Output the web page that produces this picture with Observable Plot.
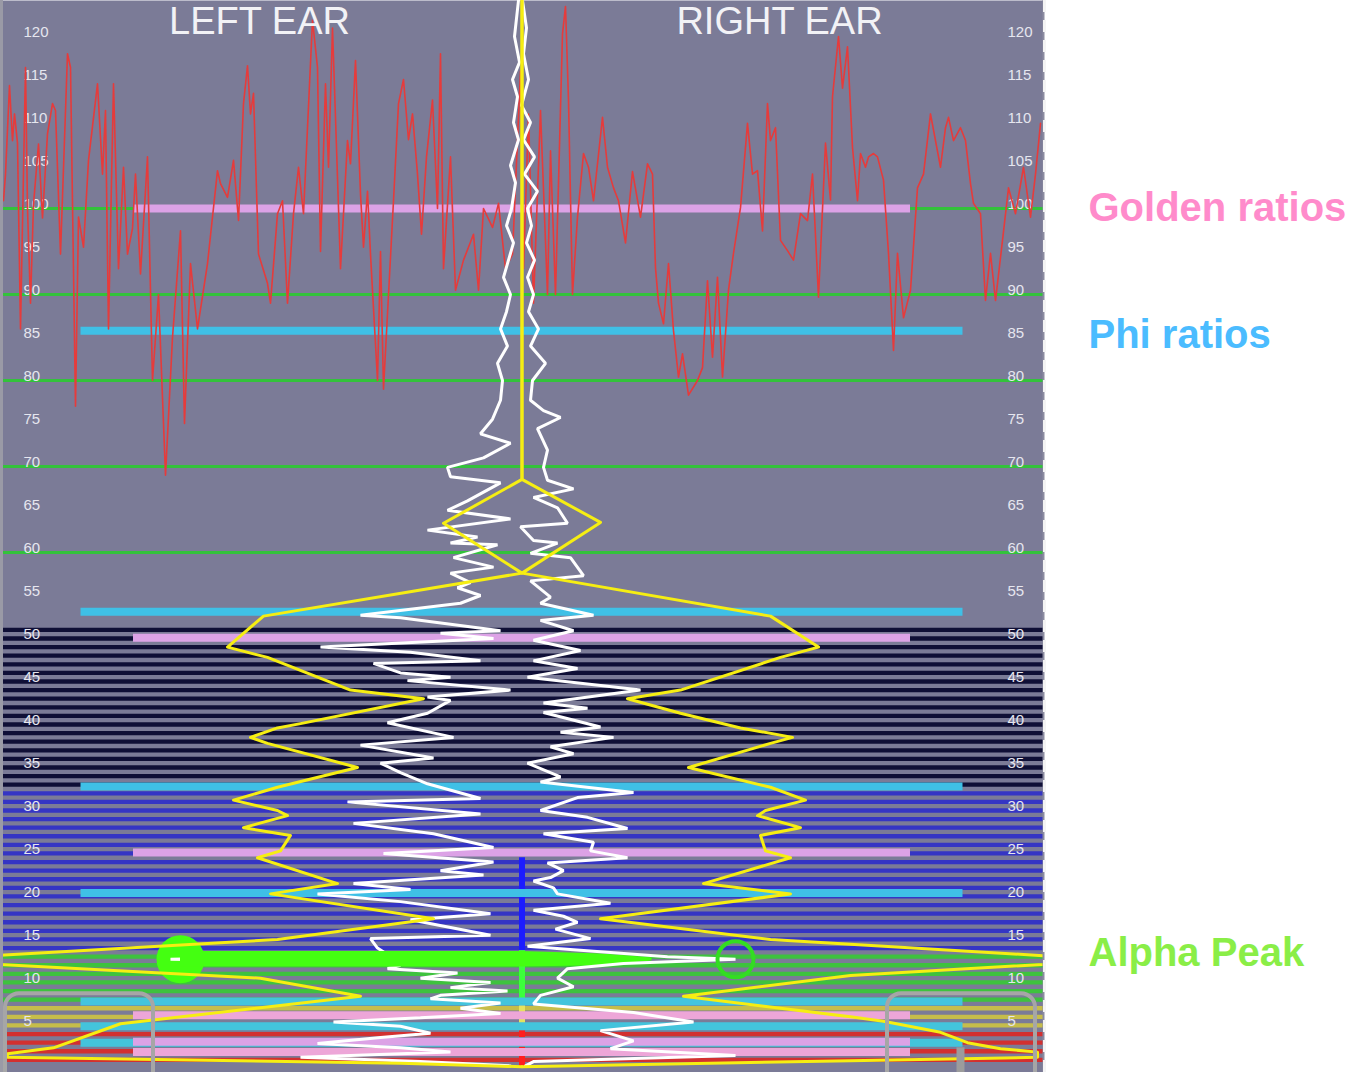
<!DOCTYPE html>
<html>
<head>
<meta charset="utf-8">
<script src="https://cdn.jsdelivr.net/npm/d3@7"></script>
<script src="https://cdn.jsdelivr.net/npm/@observablehq/plot@0.6"></script>
<style>
  html, body { margin: 0; padding: 0; background: #ffffff; }
  #chart { position: absolute; left: 0; top: 0; }
</style>
</head>
<body>
<div id="chart"></div>
<script>
// ---------- DATA ----------
const freqTicks = [5,10,15,20,25,30,35,40,45,50,55,60,65,70,75,80,85,90,95,100,105,110,115,120];
const earLabels = ["LEFT EAR", "RIGHT EAR"];
const annotations = [
  {label: "Golden ratios", v: 100},
  {label: "Phi ratios", v: 85.3},
  {label: "Alpha Peak", v: 13.4}
];
const annotationColors = ["#ff8bcb", "#4bbcff", "#8aee47"];

// EEG frequency bands (Hz) shown as striped background bins
const bands = [
  {name: "delta", lo: 1, hi: 4},
  {name: "theta", lo: 5, hi: 7},
  {name: "alpha", lo: 8, hi: 13},
  {name: "beta", lo: 14, hi: 32},
  {name: "gamma", lo: 33, hi: 51}
];
const bandColors = {delta: "#d23030", theta: "#c6bd4a", alpha: "#3ec23e", beta: "#3535c4", gamma: "#0f0f36"};
const markerColors = {delta: "#ff1e1e", theta: "#e6e25e", alpha: "#3cff3c", beta: "#1c1cff"};
const freqBins = d3.range(1, 52);

// centre band marker segments (Hz)
const markerSegments = [
  {band: "beta", lo: 13.7, hi: 24.5},
  {band: "alpha", lo: 7.7, hi: 13.7},
  {band: "theta", lo: 5.2, hi: 7.3},
  {band: "delta", lo: 3.6, hi: 4.4},
  {band: "delta", lo: 0.1, hi: 2.7}
];

const gridLines = [60, 70, 80, 90, 100];
const goldenRatios = [100, 50.1, 25.1, 6.2, 3.1, 1.9];
const phiRatios = [85.8, 53.1, 32.8, 20.4, 7.8, 4.9, 3.0];

// red trace [time, level]
const redTrace = [
[-103.7,100.9],[-103.3,104],[-102.5,114.3],[-101.9,107.9],[-101.5,111],[-100.9,107.6],[-100.3,86],[-99.3,116.4],[-98.9,100],[-98.3,89],
[-97.7,100.5],[-96.7,107.5],[-95.9,98.9],[-94.9,108.7],[-93.9,112.2],[-93.3,111.4],[-92.3,94.7],[-90.9,118],[-90.3,116.4],[-89.3,77],
[-88.7,99],[-87.7,95.5],[-86.7,105.6],[-84.9,114.5],[-83.9,104],[-83.3,111.4],[-82.7,86],[-81.7,114.5],[-80.7,93],[-79.7,104.8],
[-78.9,94.7],[-77.9,97.7],[-77.3,104],[-76.3,92.4],[-74.9,106],[-73.9,80],[-72.7,90],[-71.3,69],[-69.9,85],[-68.3,97.4],
[-67.5,75],[-66.3,93.6],[-64.9,86],[-62.9,93.6],[-60.9,104.4],[-60.3,102.9],[-58.9,101.3],[-57.7,105.6],[-56.7,98.6],[-55.7,112.2],
[-54.9,116.6],[-54.3,111],[-53.7,113.4],[-52.7,94.7],[-50.9,91.3],[-50.3,89],[-48.9,99.4],[-47.9,100.9],[-46.9,89],[-45.7,99.4],
[-44.7,104.8],[-43.7,99.4],[-41.9,121.9],[-40.9,116.4],[-40.3,95],[-39.3,114.5],[-38.7,104.8],[-37.9,121],[-36.9,103.6],[-36.3,93],
[-34.9,107.9],[-34.3,105.2],[-33.3,117.2],[-32.3,101.7],[-31.7,95.5],[-30.9,102],[-30.3,94.7],[-28.9,80],[-28.3,95],[-27.7,79],
[-25.7,100.9],[-24.7,112.2],[-23.7,115],[-22.7,108],[-21.9,111],[-20.9,104],[-20.1,97],[-19.1,106],[-17.9,112.6],[-16.9,100],
[-16.3,118],[-15.7,93],[-14.3,106],[-13.3,90.5],[-11.7,94],[-9.7,97],[-8.7,90.5],[-7.7,100],[-5.9,97.8],[-4.7,100.6],
[-3.3,93],[-1.9,94.7],[-0.3,116],[0.3,93],[1.3,111],[2.3,89],[3.7,111.4],[5.1,90],[5.7,106.7],[6.7,90],
[8.1,120.3],[8.7,123.5],[9.3,112.6],[10.1,90],[11.1,99],[12.3,106.4],[13.3,104.8],[14.3,100.9],[16.1,110.6],[17.1,104.8],
[18.3,102.4],[19.3,100.9],[20.7,96],[22.1,104.3],[23.7,99],[25.1,105.2],[26.1,104],[26.7,93.1],[27.3,89],[28.3,86.6],
[29.3,93.6],[30.3,85.8],[31.3,80.4],[32.1,83.1],[33.3,78.3],[35.1,80],[36.1,81.5],[37.1,91.6],[38.1,82.7],[39.1,92],
[40.1,80.4],[41.3,90.5],[42.3,94.8],[43.7,100.1],[45.1,109.9],[46.1,104],[47.1,104.4],[48.1,97.4],[49.1,112.2],[49.7,107.9],
[50.7,109.4],[51.7,96.3],[53.1,95.1],[54.3,94],[55.7,99.4],[57.1,98.6],[58.1,104],[59.3,89.7],[60.7,107.6],[61.7,101],
[62.1,113],[63.3,120],[64.1,114],[65.1,118.8],[66.1,107.1],[67.1,100.9],[67.7,106.4],[68.7,104.8],[69.3,106],[70.3,106.4],
[71.1,106],[72.3,103.3],[73.3,94.8],[74.3,83.5],[75.1,94.8],[76.3,87.3],[77.7,90.5],[79.1,102.4],[80.3,104],[81.7,111],
[82.7,107.9],[83.7,104.8],[84.7,109.4],[85.3,110.6],[86.3,107.9],[87.7,109.4],[88.7,107.9],[89.7,102.9],[90.3,100.6],[91.7,99.4],
[92.7,89.3],[93.7,94.8],[94.7,89.3],[96.1,96.3],[97.3,102.4],[98.7,99.4],[100.3,104.8],[101.7,99],[102.7,104],[103.7,109.9]
];

// white spectra [frequency, amplitude] (left ear negative, right ear positive)
const leftSpectrum = [
[124.2,-0.7],[120,-1.5],[117,-0.5],[115,-1.9],[113,-0.9],[110,-1.7],[108,-0.7],[105,-2.3],[103,-1.3],[100,-2.1],
[98,-3.1],[96,-1.7],[94,-2.7],[92,-3.7],[90,-2.3],[88,-3.1],[86,-4.3],[84,-2.9],[82,-4.9],[80,-3.9],
[77.7,-4.3],[75.5,-5.9],[73.8,-8.3],[72.7,-2.3],[71,-7.7],[69.9,-14.9],[68.8,-14.3],[68.1,-4.3],[66,-10.9],[64.9,-14.9],
[63.9,-2.3],[62.6,-18.9],[61.8,-8.9],[61.1,-14.3],[60.9,-4.9],[59.4,-13.7],[58.3,-5.7],[57.6,-14.3],[56.5,-10.3],[55.9,-12.9],
[55,-8.3],[54.1,-12.3],[52.7,-32.3],[52.4,-24.3],[50.9,-4.3],[50.6,-16.3],[50,-5.7],[49,-40.3],[48.4,-22.3],[47.4,-8.3],
[47.1,-29.7],[46,-24.3],[45.5,-14.3],[45.1,-22.9],[44,-2.3],[43.2,-18.9],[42.8,-14.3],[41.3,-18.9],[40.2,-26.9],[38.5,-13.7],
[37.6,-32.3],[36.1,-17.7],[35.5,-28.3],[34.4,-24.3],[33.1,-18.9],[31.4,-8.3],[31,-34.9],[29.6,-8.3],[28.5,-33.7],[27.3,-17.7],
[25.7,-5.7],[25,-27.7],[24,-5.7],[23,-16.3],[22.5,-7.7],[21.5,-33.7],[20.8,-22.3],[20.3,-40.9],[19.4,-24.3],[18,-6.3],
[17.3,-22.3],[15.5,-6.3],[15.1,-30.3],[14,-28.9],[13.4,-27.3],[13,-44.3],[12.7,-70.3],[12.4,-38.3],[12,-24.3],[11.6,-26.9],
[11.1,-12.9],[10.5,-20.3],[10,-6.3],[9.4,-14.3],[9,-2.9],[8.5,-16.3],[8.1,-18.3],[7.6,-4.3],[7,-12.3],[6.4,-4.3],
[5.9,-20.3],[5.4,-37.7],[4.9,-24.3],[4.1,-18.3],[3.6,-28.3],[2.9,-40.9],[2.4,-24.3],[1.9,-14.3],[1.3,-44.3],[0.8,-20.3],[0.3,-2.3]
];
const rightSpectrum = [
[124.2,0.1],[121,0.9],[118,0.3],[115,1.3],[112,-0.1],[110,1.7],[108,0.3],[106,2.5],[104,0.5],[102,3.1],
[100,1.1],[98,1.9],[96,0.9],[94,2.5],[92,1.1],[90,2.3],[88,1.3],[86,3.3],[84,1.7],[82,4.7],
[80,2.1],[77.7,1.7],[76.5,4.3],[75.7,7.7],[74.4,3.1],[71.9,5.1],[69.9,4.3],[68.4,5.1],[67.4,10.3],[66.4,2.3],
[65.2,7.1],[63.4,9.1],[63,-0.3],[61.4,2.3],[61.1,7.1],[59.9,1.7],[59.4,9.7],[57.3,12.3],[56.7,1.7],[54.8,5.7],
[54.1,3.7],[52.7,14.3],[52.1,3.7],[50.9,10.3],[49.8,2.3],[48.6,11.7],[47.4,2.3],[46.5,11.1],[45.5,1.1],[44,23.7],
[42.5,4.3],[41.9,13.1],[41.4,4.3],[39.7,15.7],[39.1,7.7],[38.5,18.3],[37.4,5.7],[36.6,10.3],[35.5,1.1],[33.9,7.7],
[33.3,3.7],[32.1,22.3],[31.5,11.1],[30,3.7],[29.2,13.1],[27.9,21.1],[27.3,4.3],[26.3,14.3],[25.3,13.7],[24.5,21.1],
[23.9,5.1],[23,8.3],[22.2,5.7],[21.8,2.3],[21,6.3],[20.3,7.1],[19.2,17.7],[18.4,2.3],[17.7,8.3],[17,11.1],
[16.2,6.7],[15.1,13.7],[14.2,1.1],[13.8,10.3],[13,29.1],[12.7,42.7],[12.2,20.3],[11.6,9.1],[10.5,7.1],[9.5,10.3],
[8.5,3.7],[7.5,2.3],[6.5,22.3],[5.4,34.3],[4.4,15.7],[3.2,22.3],[2.3,17.7],[1.5,42.7],[0.8,2.3],[0.3,0.7]
];

// yellow smoothed envelopes [frequency, amplitude]
const leftEnvelope = [
[124.2,0],[68.5,0],[63.4,-15.7],[57.6,0],[52.6,-51.7],[49,-58.9],[47.8,-50.9],[44,-34.3],[43,-19.7],[40.1,-44.3],
[39.6,-48.9],[38.5,-54.3],[37.8,-50.9],[35,-32.9],[32.7,-48.9],[31.2,-57.7],[30,-48.9],[29.4,-46.9],[28,-55.7],[27.1,-46.3],
[25.3,-48.3],[24.5,-52.9],[21.5,-36.9],[20.3,-50.3],[17.4,-17.7],[15,-48.9],[12.6,-121],[10.5,-52.3],[8.4,-32.3],[5.2,-80.3],
[2.4,-93.7],[1.7,-102.9],[1.3,-102.9],[0.6,-24.3],[0.2,0]
];
const rightEnvelope = [
[124.2,0],[68.5,0],[63.5,15.7],[57.6,0],[52.6,49.7],[49,59.3],[47.8,51.7],[44,31.7],[43,21.1],[41.3,31.7],
[39.6,43.7],[38.5,54.1],[37.8,49.7],[35,33.3],[32.7,49.7],[31.2,56.7],[30,48.7],[29.4,47.1],[28,55.7],[27.1,47.7],
[25.3,48.7],[24.5,53.7],[21.5,36.3],[20.3,53.7],[17.4,15.7],[15,49.7],[12.6,119],[10.8,65.7],[8.4,32.3],[6,65.7],
[5.5,72.3],[4.2,83.7],[3,89.1],[2.3,95.7],[1.9,103.1],[1.3,103.1],[0.9,65.7],[0.2,0]
];

// alpha peak
const alphaPeak = {freq: 12.7, left: -68.3, right: 42.7};
const alphaBridge = [[-68.3, 13.6, 11.8], [0, 13.6, 11.8], [16, 13.3, 11.95], [26, 12.85, 12.5]];

// bottom controls (amplitude extents, frequency top)
const handles = [{x1: -103.3, x2: -73.7, top: 8.7}, {x1: 73.1, x2: 102.7, top: 8.7}];
const slider = [{x: 87.7, top: 2.4}];

// ---------- CHART ----------
const bandOf = f => bands.find(b => f >= b.lo && f <= b.hi).name;
const FONT = "'Liberation Sans', Arial, Helvetica, sans-serif";

const chart = Plot.plot({
  width: 1360,
  height: 1072,
  marginLeft: 0,
  marginRight: 317,
  marginTop: 0,
  marginBottom: 0,
  style: {background: "#ffffff", fontFamily: FONT, overflow: "visible"},
  x: {domain: [-104.3, 104.3], axis: null},
  y: {domain: [-0.47, 124.19], axis: null},
  marks: [
    Plot.frame({fill: "#7b7b97", stroke: null}),
    // striped frequency bins
    Plot.ruleY(freqBins, {y: d => d, stroke: d => bandColors[bandOf(d)], strokeWidth: 4.3}),
    // green reference lines
    Plot.ruleY(gridLines, {y: d => d, stroke: "#33c23b", strokeWidth: 3}),
    // centre band marker
    Plot.ruleX(markerSegments, {x: 0, y1: "lo", y2: "hi", stroke: d => markerColors[d.band], strokeWidth: 6}),
    // phi and golden ratio bars
    Plot.ruleY(phiRatios, {y: d => d, x1: -88.2, x2: 88.2, stroke: d => d < 10 ? "#43c4dc" : "#3fc0e6", strokeWidth: 8}),
    Plot.ruleY(goldenRatios, {y: d => d, x1: -77.7, x2: 77.7, stroke: d => (d < 10 && d !== 3.1) ? "#eda6d8" : "#dca2e6", strokeWidth: 8}),
    // tick labels
    Plot.text(freqTicks, {y: d => d, text: d => String(d), frameAnchor: "left", dx: 23, dy: -4, textAnchor: "start", fill: "#e6e6ef", fontSize: 15}),
    Plot.text(freqTicks, {y: d => d, text: d => String(d), frameAnchor: "right", dx: -36, dy: -4, textAnchor: "start", fill: "#e6e6ef", fontSize: 15}),
    // red trace
    Plot.line(redTrace, {x: d => d[0], y: d => d[1], stroke: "#e63b3b", strokeWidth: 1.6, clip: true}),
    // alpha peak (left circle), left spectrum, bridge
    Plot.dot([alphaPeak], {x: "left", y: "freq", r: 24, fill: "#44ff11", stroke: null}),
    Plot.line(leftSpectrum, {x: d => d[1], y: d => d[0], stroke: "#ffffff", strokeWidth: 3, strokeLinejoin: "miter"}),
    Plot.areaY(alphaBridge, {x: d => d[0], y1: d => d[2], y2: d => d[1], fill: "#44ff11"}),
    Plot.line(rightSpectrum, {x: d => d[1], y: d => d[0], stroke: "#ffffff", strokeWidth: 3, strokeLinejoin: "miter"}),
    Plot.dot([alphaPeak], {x: "right", y: "freq", r: 18, fill: "none", stroke: "#33dd22", strokeWidth: 4}),
    // yellow envelopes
    Plot.line(leftEnvelope, {x: d => d[1], y: d => d[0], stroke: "#f6ee12", strokeWidth: 3, clip: true}),
    Plot.line(rightEnvelope, {x: d => d[1], y: d => d[0], stroke: "#f6ee12", strokeWidth: 3, clip: true}),
    // bottom controls
    Plot.rect(handles, {x1: "x1", x2: "x2", y1: -3, y2: "top", rx: 14, fill: "none", stroke: "#a6a6a6", strokeWidth: 4, clip: true}),
    Plot.ruleX(slider, {x: "x", y1: -3, y2: "top", stroke: "#9c9c9c", strokeWidth: 8, clip: true}),
    // borders
    Plot.ruleX([-104.3], {stroke: "#9a9aa6", strokeWidth: 5}),
    Plot.ruleX([104.3], {stroke: "#8c8ca0", strokeWidth: 2}),
    Plot.ruleX([104.3], {stroke: "#f4f4f4", strokeWidth: 3, strokeDasharray: "12,8", dx: 1}),
    // ear labels
    Plot.text(earLabels, {x: (d, i) => [-52.5, 51.5][i], text: d => d, frameAnchor: "top", dy: 21, lineAnchor: "middle", fill: "#f2f2f6", fontSize: 38, fontWeight: 300}),
    // annotations
    Plot.text(annotations, {y: "v", text: "label", frameAnchor: "right", dx: 45, textAnchor: "start", lineAnchor: "middle", fill: (d, i) => annotationColors[i], fontSize: 40, fontWeight: "bold"})
  ]
});
document.getElementById("chart").appendChild(chart);
</script>
</body>
</html>
